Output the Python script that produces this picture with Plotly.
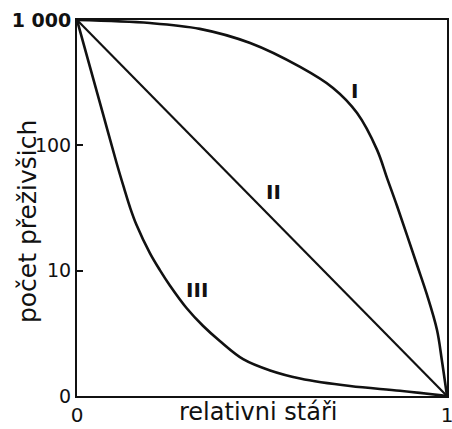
import math
import plotly.graph_objects as go

# Relative age (0..1) and number of survivors (log scale)
age_I = [0.0, 0.197, 0.332, 0.468, 0.603, 0.692, 0.757, 0.811, 0.838, 0.865,
         0.919, 0.946, 0.973, 0.986, 1.0]
surv_I = [1000, 946, 850, 655, 422, 287, 181, 92, 54.8, 32.8,
          11.1, 6.40, 3.36, 1.94, 1]

age_II = [0.0, 1.0]
surv_II = [1000, 1]

age_III = [0.0, 0.035, 0.071, 0.107, 0.127, 0.143, 0.161, 0.197, 0.224, 0.251,
           0.296, 0.341, 0.386, 0.449, 0.522, 0.603, 0.738, 0.873, 1.0]
surv_III = [1000, 422, 175, 72.3, 45.7, 32.2, 23.1, 13.8, 10.1, 7.62,
            5.04, 3.62, 2.75, 1.97, 1.60, 1.38, 1.20, 1.10, 1]

curve_names = ["I", "II", "III"]
label_x = [0.751, 0.532, 0.324]
label_y = [271, 42.5, 7.0]

y_tickvals = [1, 10, 100, 1000]
y_ticktext = ["0", "10", "100", "<b>1 000</b>"]
x_tickvals = [0, 1]
x_ticktext = ["0", "1"]

FONT = "DejaVu Sans"
INK = "#111111"

fig = go.Figure()
for ax, sv, w in [(age_I, surv_I, 2.6), (age_II, surv_II, 2.2), (age_III, surv_III, 2.6)]:
    fig.add_trace(go.Scatter(x=ax, y=sv, mode="lines",
                             line=dict(color=INK, width=w, shape="spline", smoothing=1.0),
                             showlegend=False, hoverinfo="skip"))

for name, lx, ly in zip(curve_names, label_x, label_y):
    fig.add_annotation(x=lx, y=math.log10(ly), xref="x", yref="y", text="<b>" + name + "</b>",
                       showarrow=False, font=dict(family=FONT, size=20, color=INK),
                       xanchor="center", yanchor="middle")

fig.add_annotation(x=0.49, y=-0.043, xref="paper", yref="paper", text="relativni stáři",
                   showarrow=False, yanchor="middle", xanchor="center",
                   font=dict(family=FONT, size=24, color=INK))
fig.add_annotation(x=-0.132, y=0.463, xref="paper", yref="paper", text="počet přeživšich",
                   showarrow=False, textangle=-90, xanchor="center", yanchor="middle",
                   font=dict(family=FONT, size=25, color=INK))

fig.update_xaxes(range=[0, 1], tickvals=x_tickvals, ticktext=x_ticktext,
                 showgrid=False, zeroline=False, showline=True, linecolor=INK,
                 linewidth=2, mirror=True, ticks="", ticklen=0, automargin=False,
                 ticklabeloverflow="allow",
                 tickfont=dict(family=FONT, size=20, color=INK))
fig.update_yaxes(type="log", range=[0, 3], tickvals=y_tickvals, ticktext=y_ticktext,
                 showgrid=False, zeroline=False, showline=True, linecolor=INK,
                 linewidth=2, mirror=True, ticks="inside", ticklen=6, tickwidth=2,
                 tickcolor=INK, automargin=False, ticklabeloverflow="allow",
                 tickfont=dict(family=FONT, size=19, color=INK))

fig.update_layout(width=452, height=429, margin=dict(l=77, r=5, t=20, b=33, autoexpand=False),
                  paper_bgcolor="white", plot_bgcolor="white")

fig.write_html("out.html", config={"displayModeBar": False},
               post_script="document.body.style.margin='0';document.body.style.overflow='hidden';")
